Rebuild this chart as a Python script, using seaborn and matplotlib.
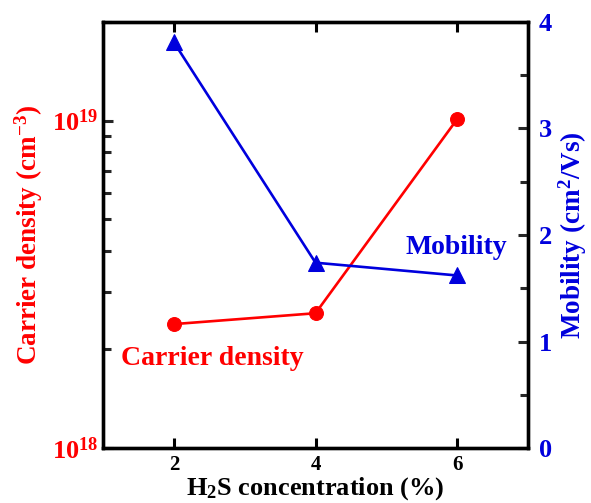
import numpy as np
import pandas as pd
import seaborn as sns
import matplotlib.pyplot as plt
from matplotlib.ticker import LogLocator, MultipleLocator, NullFormatter

# dados
h2s = [2, 4, 6]
carrier = [2.39e18, 2.58e18, 1.01e19]
mobility = [3.81, 1.74, 1.62]

sns.set_theme(style="ticks")
plt.rcParams["font.family"] = ["Liberation Serif", "DejaVu Serif"]
plt.rcParams["font.weight"] = "bold"
plt.rcParams["axes.labelweight"] = "bold"
plt.rcParams["mathtext.fontset"] = "custom"
plt.rcParams["mathtext.rm"] = "Liberation Serif:bold"
plt.rcParams["mathtext.bf"] = "Liberation Serif:bold"
plt.rcParams["mathtext.it"] = "Liberation Serif:bold:italic"

df = pd.DataFrame({"h2s": h2s, "carrier": carrier, "mobility": mobility})

fig = plt.figure(figsize=(5.91, 5.03), dpi=100)
ax = fig.add_axes([0.1743, 0.1093, 0.7191, 0.847])
ax2 = ax.twinx()

sns.lineplot(data=df, x="h2s", y="carrier", ax=ax, color="#ff0000", marker="o",
             markersize=10, markeredgecolor="#ff0000", linewidth=1.9)
sns.lineplot(data=df, x="h2s", y="mobility", ax=ax2, color="#0000dd", marker="^",
             markersize=11, markeredgecolor="#0000dd", linewidth=1.9)

ax.set_xlim(1, 7)
ax.set_yscale("log")
ax.set_ylim(1e18, 2e19)
ax2.set_ylim(0, 4)

ax.set_xticks([2, 4, 6])
ax.yaxis.set_major_locator(LogLocator(base=10, numticks=5))
ax.yaxis.set_minor_locator(LogLocator(base=10, subs=np.arange(2, 10), numticks=20))
ax.yaxis.set_minor_formatter(NullFormatter())
ax2.yaxis.set_major_locator(MultipleLocator(1))
ax2.yaxis.set_minor_locator(MultipleLocator(0.5))

ax.tick_params(axis="x", direction="in", top=True, length=7, width=2.2,
               labelsize=15, colors="black", pad=5)
ax.tick_params(axis="y", which="major", direction="in", length=7, width=2.2,
               labelsize=19, labelcolor="#ff0000", right=False)
ax.tick_params(axis="y", which="minor", direction="in", length=6, width=2.2, right=False)
ax2.tick_params(axis="y", which="major", direction="in", length=7, width=2.2,
                labelsize=19, labelcolor="#0000dd", pad=8)
ax2.tick_params(axis="y", which="minor", direction="in", length=6, width=2.2)

for a in (ax, ax2):
    for s in a.spines.values():
        s.set_linewidth(2.4)
        s.set_color("black")

ax.set_xlabel("H$_2$S concentration (%)", fontsize=19, color="black", labelpad=0)
ax.set_ylabel("Carrier density (cm$^{-3}$)", fontsize=19.5, color="#ff0000", labelpad=5)
ax2.set_ylabel("Mobility (cm$^2$/Vs)", fontsize=19.5, color="#0000dd", labelpad=3)

ax.text(1.25, 1.88e18, "Carrier density", fontsize=20, color="#ff0000",
        ha="left", va="center", fontweight="bold")
ax2.text(5.27, 1.88, "Mobility", fontsize=20, color="#0000dd",
         ha="left", va="center", fontweight="bold")

fig.savefig("out.png", dpi=100)
